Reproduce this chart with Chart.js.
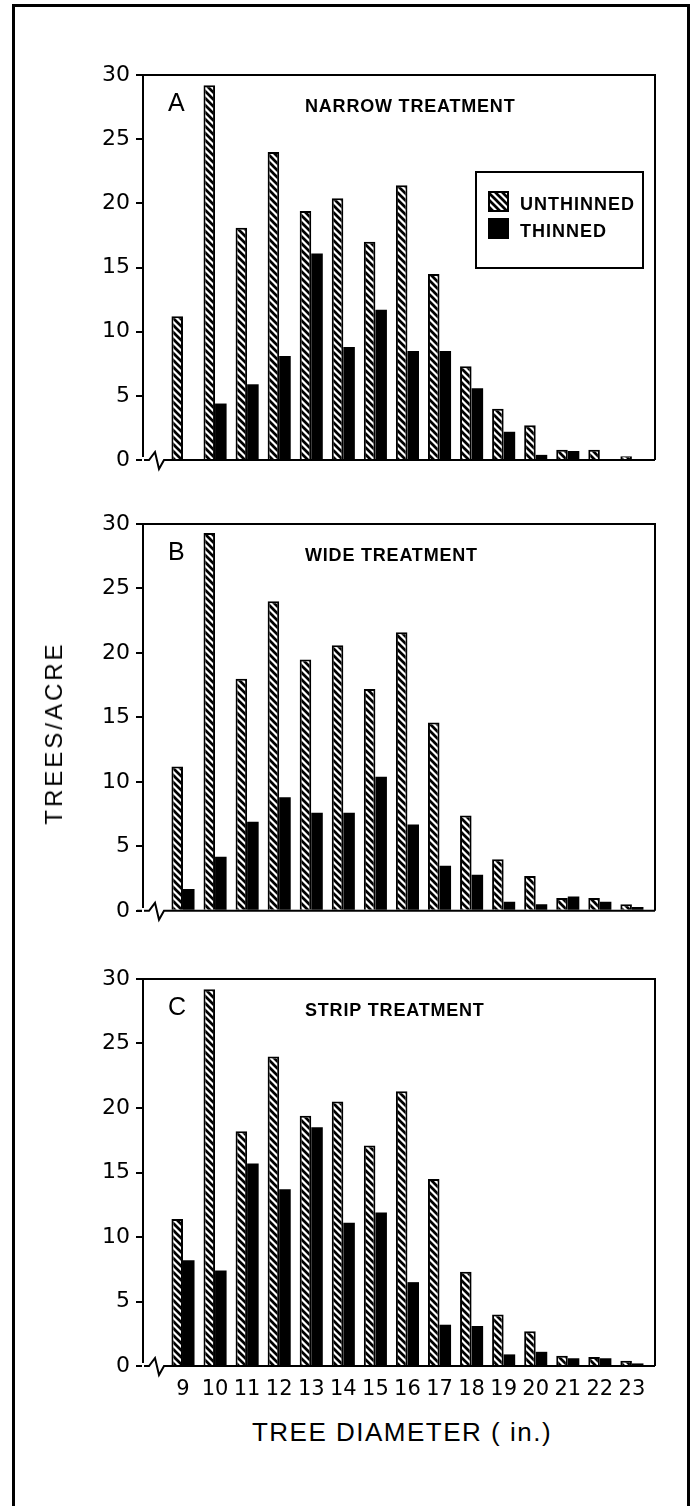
<!DOCTYPE html>
<html><head><meta charset="utf-8">
<script src="https://cdn.jsdelivr.net/npm/chart.js@4.4.1/dist/chart.umd.min.js"></script>
<style>
html,body{margin:0;padding:0;background:#fff;}
body{width:693px;height:1506px;position:relative;overflow:hidden;}
#frame{position:absolute;left:12px;top:4px;width:672px;height:1600px;border:3px solid #000;border-bottom:none;}
canvas{position:absolute;left:0;}
#ytitle{position:absolute;left:54px;top:733px;transform:translate(-50%,-50%) rotate(-90deg);font:24px "Liberation Sans";letter-spacing:3px;white-space:nowrap;color:#000;}
#xtitle{position:absolute;left:402px;top:1432px;transform:translate(-50%,-50%);font:26px "Liberation Sans";letter-spacing:1.5px;white-space:nowrap;color:#000;}
</style></head>
<body>
<div id="frame"></div>
<canvas id="cA" width="693" height="440" style="top:40px;width:693px;height:440px"></canvas>
<canvas id="cB" width="693" height="440" style="top:490px;width:693px;height:440px"></canvas>
<canvas id="cC" width="693" height="465" style="top:945px;width:693px;height:465px"></canvas>
<div id="ytitle">TREES/ACRE</div>
<div id="xtitle">TREE DIAMETER ( in.)</div>
<script>
const diameters = [9,10,11,12,13,14,15,16,17,18,19,20,21,22,23];
const seriesNames = ['UNTHINNED','THINNED'];
const panelLetters = ['A','B','C'];
const panelTitles = ['NARROW TREATMENT','WIDE TREATMENT','STRIP TREATMENT'];
const yTickValues = [0,5,10,15,20,25,30];
const xAxisTitle = 'TREE DIAMETER ( in.)';
const yAxisTitle = 'TREES/ACRE';

const narrowUnthinned = [11.2,29.2,18.1,24.0,19.4,20.4,17.0,21.4,14.5,7.3,4.0,2.7,0.8,0.8,0.3];
const narrowThinned   = [null,4.4,5.9,8.1,16.1,8.8,11.7,8.5,8.5,5.6,2.2,0.4,0.7,null,null];
const wideUnthinned   = [11.2,29.3,18.0,24.0,19.5,20.6,17.2,21.6,14.6,7.4,4.0,2.7,1.0,1.0,0.5];
const wideThinned     = [1.7,4.2,6.9,8.8,7.6,7.6,10.4,6.7,3.5,2.8,0.7,0.5,1.1,0.7,0.3];
const stripUnthinned  = [11.4,29.2,18.2,24.0,19.4,20.5,17.1,21.3,14.5,7.3,4.0,2.7,0.8,0.7,0.4];
const stripThinned    = [8.2,7.4,15.7,13.7,18.5,11.1,11.9,6.5,3.2,3.1,0.9,1.1,0.6,0.6,0.2];

document.getElementById('xtitle').textContent = xAxisTitle;
document.getElementById('ytitle').textContent = yAxisTitle;

function hatchPattern(){
  const n = 7;
  const c = document.createElement('canvas'); c.width = n; c.height = n;
  const g = c.getContext('2d');
  g.fillStyle = '#fff'; g.fillRect(0,0,n,n);
  g.strokeStyle = '#000'; g.lineWidth = 2.7; g.lineCap = 'square';
  g.beginPath();
  g.moveTo(-1,-1); g.lineTo(n+1,n+1);
  g.moveTo(-1,n-1); g.lineTo(1,n+1);
  g.moveTo(n-1,-1); g.lineTo(n+1,1);
  g.stroke();
  return g.createPattern(c,'repeat');
}

const panelDeco = {
  id: 'panelDeco',
  afterDraw(chart, args, o) {
    const ctx = chart.ctx, a = chart.chartArea, y0 = chart.scales.y.getPixelForValue(0);
    ctx.save();
    ctx.strokeStyle = '#000'; ctx.fillStyle = '#000'; ctx.lineWidth = 2;
    ctx.beginPath();
    ctx.moveTo(a.left - 7, a.top); ctx.lineTo(a.right, a.top); ctx.lineTo(a.right, y0);
    ctx.stroke();
    ctx.beginPath();
    ctx.moveTo(a.left - 6, y0); ctx.lineTo(a.left + 6, y0);
    ctx.lineTo(a.left + 12, y0 - 8); ctx.lineTo(a.left + 16, y0 + 9);
    ctx.lineTo(a.left + 21, y0); ctx.lineTo(a.right, y0);
    ctx.stroke();
    ctx.clearRect(a.left - 1, y0 - 3, 2, 6);
    ctx.textBaseline = 'alphabetic'; ctx.textAlign = 'left';
    ctx.font = '25px "Liberation Sans"';
    ctx.fillText(o.letter, a.left + 25, a.top + 36);
    ctx.font = 'bold 18px "Liberation Sans"';
    ctx.letterSpacing = '0.8px';
    ctx.fillText(o.title, a.left + 162, a.top + 37);
    if (o.legend) {
      ctx.lineWidth = 2;
      ctx.strokeRect(a.left + 333, a.top + 97, 167, 96);
      const ds = chart.data.datasets;
      ctx.font = 'bold 18px "Liberation Sans"';
      ctx.letterSpacing = '1px';
      ds.forEach((d, i) => {
        const sy = a.top + 116 + i * 27;
        ctx.fillStyle = d.backgroundColor;
        ctx.fillRect(a.left + 345, sy, 21, 21);
        if (d.borderWidth) { ctx.strokeStyle = '#000'; ctx.strokeRect(a.left + 346, sy + 1, 19, 19); }
        ctx.fillStyle = '#000';
        ctx.fillText(d.label, a.left + 377, sy + 19);
      });
    }
    ctx.restore();
  }
};

const X_MIN = 7.753, X_MAX = 23.72;

function makeChart(id, idx, unth, thin, cfg) {
  const pattern = hatchPattern();
  return new Chart(document.getElementById(id), {
    type: 'bar',
    data: {
      datasets: [
        { label: seriesNames[0], data: diameters.map((d,i)=>({x:d, y:unth[i]})),
          backgroundColor: pattern, borderColor: '#000', borderWidth: 2, borderSkipped: 'bottom',
          categoryPercentage: 0.72, barPercentage: 1 },
        { label: seriesNames[1], data: diameters.map((d,i)=>({x:d, y:thin[i]})),
          backgroundColor: '#000', borderWidth: 0,
          categoryPercentage: 0.72, barPercentage: 1 }
      ]
    },
    options: {
      responsive: false, animation: false, devicePixelRatio: 1,
      layout: { padding: { left: 0, right: 38, top: cfg.padTop, bottom: cfg.padBottom } },
      plugins: {
        legend: { display: false }, tooltip: { enabled: false },
        panelDeco: { letter: panelLetters[idx], title: panelTitles[idx], legend: idx === 0 }
      },
      scales: {
        x: {
          type: 'linear', min: X_MIN, max: X_MAX, offset: false,
          grid: { display: false }, border: { display: false },
          ticks: { display: cfg.showX, autoSkip: false, color: '#000', padding: 3,
                   font: { family: 'DejaVu Sans', size: 21 } },
          afterBuildTicks: s => { s.ticks = diameters.map(v => ({ value: v })); },
          afterFit: s => { s.height = cfg.xH; }
        },
        y: {
          min: 0, max: 30,
          grid: { drawOnChartArea: false, drawTicks: true, tickLength: 7, color: '#000', lineWidth: 2 },
          border: { display: true, color: '#000', width: 2 },
          ticks: { color: '#000', padding: 6, font: { family: 'DejaVu Sans', size: 22 } },
          afterBuildTicks: s => { s.ticks = yTickValues.map(v => ({ value: v })); },
          afterFit: s => { s.width = 143; }
        }
      }
    },
    plugins: [panelDeco]
  });
}

makeChart('cA', 0, narrowUnthinned, narrowThinned, { padTop: 35, padBottom: 20, xH: 0, showX: false });
makeChart('cB', 1, wideUnthinned, wideThinned, { padTop: 34, padBottom: 19, xH: 0, showX: false });
makeChart('cC', 2, stripUnthinned, stripThinned, { padTop: 34, padBottom: 4, xH: 40, showX: true });
</script>
</body></html>
